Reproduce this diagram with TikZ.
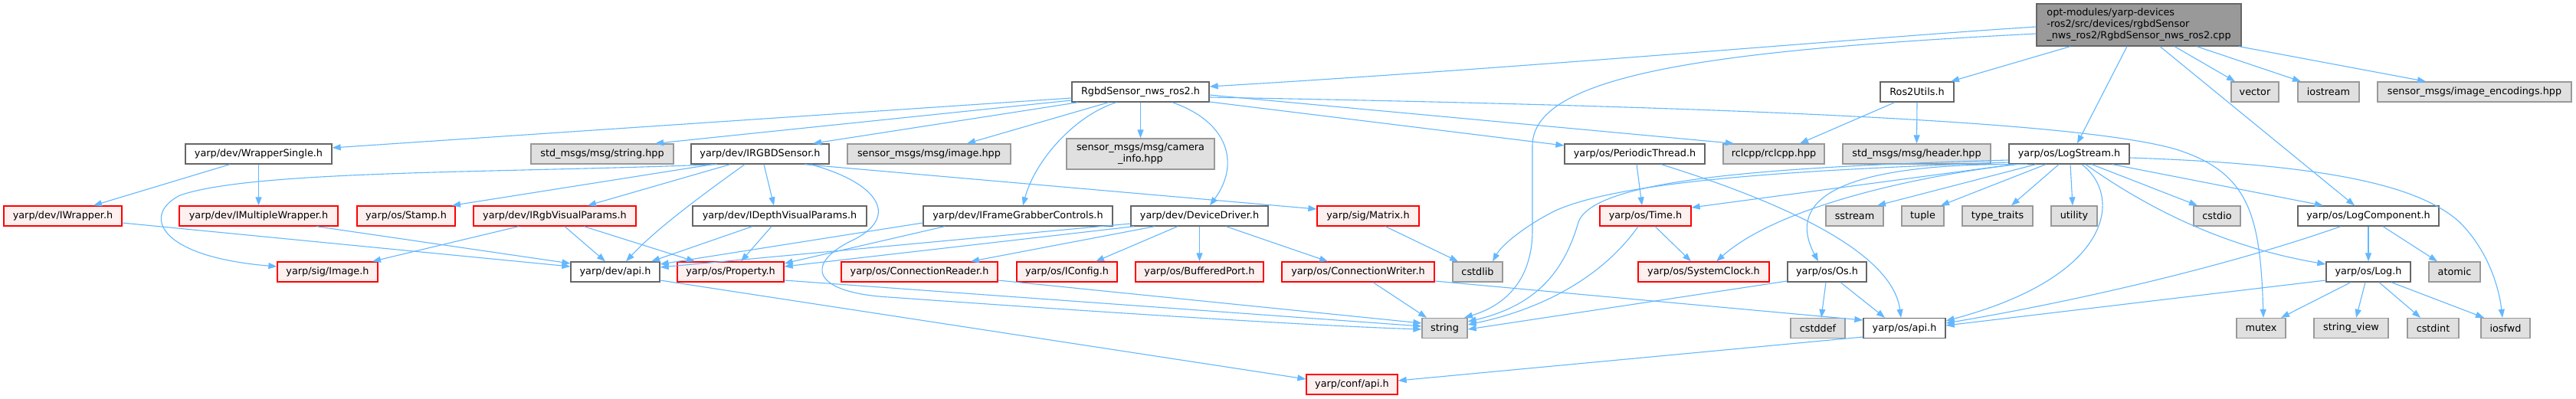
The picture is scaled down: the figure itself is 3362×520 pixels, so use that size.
\documentclass[tikz,border=0pt]{standalone}
\usepackage{fontspec}
\setmainfont{DejaVu Sans}
\usetikzlibrary{arrows.meta}
\definecolor{edgeblue}{HTML}{63B8FF}
\definecolor{redfill}{HTML}{FFF0F0}
\definecolor{grayfill}{HTML}{E0E0E0}
\definecolor{topfill}{HTML}{999999}
\definecolor{wborder}{HTML}{666666}
\definecolor{gborder}{HTML}{999999}
\begin{document}
\begin{tikzpicture}[x=1pt,y=-1pt,
  every node/.style={font=\fontsize{12.8}{15}\selectfont, inner sep=0pt, minimum height=26pt, line width=1.3pt, text=black},
  wbox/.style={draw=wborder, fill=white},
  gbox/.style={draw=gborder, fill=grayfill},
  rbox/.style={draw=red, fill=redfill},
  tbox/.style={draw=wborder, fill=topfill},
  dep/.style={draw=edgeblue, line width=1.1pt, -{Triangle[length=11pt,width=8pt]}},
]
\useasboundingbox[fill=white] (0,0) rectangle (3362,520);

% row 0 / 1
\node[tbox, minimum width=267pt, minimum height=55pt, align=left] (T) at (2791.5,32.5) {opt-modules/yarp-devices\\-ros2/src/devices/rgbdSensor\\\_nws\_ros2/RgbdSensor\_nws\_ros2.cpp};
\node[wbox, minimum width=179pt] (R) at (1488.5,120) {RgbdSensor\_nws\_ros2.h};
\node[wbox, minimum width=96pt] (ros) at (2502,120) {Ros2Utils.h};
\node[gbox, minimum width=62pt] (vec) at (2943,120) {vector};
\node[gbox, minimum width=80pt] (ios) at (3039,120) {iostream};
\node[gbox, minimum width=253pt] (enc) at (3229.5,120) {sensor\_msgs/image\_encodings.hpp};

% row 2
\node[wbox, minimum width=191pt] (ws) at (337.5,201) {yarp/dev/WrapperSingle.h};
\node[gbox, minimum width=186pt] (shpp) at (786,201) {std\_msgs/msg/string.hpp};
\node[wbox, minimum width=180pt] (irgbd) at (992,201) {yarp/dev/IRGBDSensor.h};
\node[gbox, minimum width=213pt] (ihpp) at (1212.5,201) {sensor\_msgs/msg/image.hpp};
\node[gbox, minimum width=193pt, minimum height=40pt, align=center] (cam) at (1488.5,201) {sensor\_msgs/msg/camera\\\_info.hpp};
\node[wbox, minimum width=183pt] (pt) at (2133.5,201) {yarp/os/PeriodicThread.h};
\node[gbox, minimum width=132pt] (rcl) at (2315,201) {rclcpp/rclcpp.hpp};
\node[gbox, minimum width=193pt] (hdr) at (2501.5,201) {std\_msgs/msg/header.hpp};
\node[wbox, minimum width=157pt] (ls) at (2700.5,201) {yarp/os/LogStream.h};

% row 3
\node[rbox, minimum width=154pt] (iwr) at (82,282) {yarp/dev/IWrapper.h};
\node[rbox, minimum width=207pt] (imw) at (337.5,282) {yarp/dev/IMultipleWrapper.h};
\node[rbox, minimum width=128pt] (stamp) at (530,282) {yarp/os/Stamp.h};
\node[rbox, minimum width=212pt] (rgbvp) at (724,282) {yarp/dev/IRgbVisualParams.h};
\node[wbox, minimum width=227pt] (depvp) at (1017.5,282) {yarp/dev/IDepthVisualParams.h};
\node[wbox, minimum width=247pt] (ifg) at (1328.5,282) {yarp/dev/IFrameGrabberControls.h};
\node[wbox, minimum width=179pt] (dd) at (1565.5,282) {yarp/dev/DeviceDriver.h};
\node[rbox, minimum width=133pt] (mat) at (1785.5,282) {yarp/sig/Matrix.h};
\node[rbox, minimum width=119pt] (time) at (2147.5,282) {yarp/os/Time.h};
\node[gbox, minimum width=75pt] (sst) at (2420.5,282) {sstream};
\node[gbox, minimum width=55pt] (tup) at (2509.5,282) {tuple};
\node[gbox, minimum width=92pt] (tt) at (2607,282) {type\_traits};
\node[gbox, minimum width=60pt] (util) at (2707,282) {utility};
\node[gbox, minimum width=61pt] (cstdio) at (2893.5,282) {cstdio};
\node[wbox, minimum width=184pt] (lc) at (3091,282) {yarp/os/LogComponent.h};

% row 4
\node[rbox, minimum width=131pt] (img) at (427.5,355) {yarp/sig/Image.h};
\node[wbox, minimum width=116pt] (devapi) at (803,355) {yarp/dev/api.h};
\node[rbox, minimum width=139pt] (prop) at (953.5,355) {yarp/os/Property.h};
\node[rbox, minimum width=204pt] (cr) at (1200,355) {yarp/os/ConnectionReader.h};
\node[rbox, minimum width=131pt] (icfg) at (1392.5,355) {yarp/os/IConfig.h};
\node[rbox, minimum width=167pt] (bp) at (1565.5,355) {yarp/os/BufferedPort.h};
\node[rbox, minimum width=199pt] (cw) at (1772.5,355) {yarp/os/ConnectionWriter.h};
\node[gbox, minimum width=65pt] (cstdlib) at (1928.5,355) {cstdlib};
\node[rbox, minimum width=171pt] (sc) at (2223.5,355) {yarp/os/SystemClock.h};
\node[wbox, minimum width=103pt] (os) at (2384.5,355) {yarp/os/Os.h};
\node[wbox, minimum width=110pt] (log) at (3091,355) {yarp/os/Log.h};
\node[gbox, minimum width=67pt] (atomic) at (3203.5,355) {atomic};

% row 5
\node[gbox, minimum width=59pt] (str) at (1885.5,428.5) {string};
\node[gbox, minimum width=71pt] (cstddef) at (2372.5,428.5) {cstddef};
\node[wbox, minimum width=107pt] (osapi) at (2485.5,428.5) {yarp/os/api.h};
\node[gbox, minimum width=64pt] (mutex) at (2951,428.5) {mutex};
\node[gbox, minimum width=97pt] (sv) at (3068.5,428.5) {string\_view};
\node[gbox, minimum width=67pt] (cstdint) at (3175.5,428.5) {cstdint};
\node[gbox, minimum width=64pt] (iosfwd) at (3270,428.5) {iosfwd};

% row 6
\node[rbox, minimum width=119pt] (conf) at (1764.5,502) {yarp/conf/api.h};

% ---- edges from the top file
\draw[dep] (T.west |- 0,35) .. controls (2450,48) and (2000,88) .. (R.east |- 0,113);
\draw[dep] (T.west |- 0,44) .. controls (2250,65) and (2000,95) .. (2000,190) -- (2000,300) .. controls (2000,370) and (1960,400) .. (1911,0 |- str.north);
\draw[dep] (2702,0 |- T.south) -- (2546,0 |- ros.north);
\draw[dep] (2776,0 |- T.south) -- (2711,0 |- ls.north);
\draw[dep] (2819,0 |- T.south) -- (3073,0 |- lc.north);
\draw[dep] (2838,0 |- T.south) -- (2917,0 |- vec.north);
\draw[dep] (2867,0 |- T.south) -- (3003,0 |- ios.north);
\draw[dep] (2922,0 |- T.south) -- (3166,0 |- enc.north);

% ---- RgbdSensor_nws_ros2.h
\draw[dep] (R.west |- 0,128) -- (ws.east |- 0,193);
\draw[dep] (R.west |- 0,131) -- (855,0 |- shpp.north);
\draw[dep] (1407,0 |- R.south) -- (1061,0 |- irgbd.north);
\draw[dep] (1447,0 |- R.south) -- (1262,0 |- ihpp.north);
\draw[dep] (1457,0 |- R.south) .. controls (1400,152) and (1350,212) .. (1335,0 |- ifg.north);
\draw[dep] (R.south) -- (cam.north);
\draw[dep] (1530,0 |- R.south) .. controls (1605,160) and (1618,215) .. (1579,0 |- dd.north);
\draw[dep] (R.east |- 0,124) -- (2263,0 |- rcl.north);
\draw[dep] (R.east |- 0,127) .. controls (2300,140) and (2720,160) .. (2840,195) .. controls (2935,225) and (2950,280) .. (2954,0 |- mutex.north);
\draw[dep] (R.east |- 0,133) -- (pt.west |- 0,190);

% ---- IRGBDSensor.h
\draw[dep] (936,0 |- irgbd.south) .. controls (650,226) and (330,222) .. (235,255) .. controls (185,280) and (205,335) .. (img.west |- 0,348);
\draw[dep] (930,0 |- irgbd.south) -- (590,0 |- stamp.north);
\draw[dep] (953,0 |- irgbd.south) -- (767,0 |- rgbvp.north);
\draw[dep] (972,0 |- irgbd.south) .. controls (930,245) and (860,295) .. (817,0 |- devapi.north);
\draw[dep] (997,0 |- irgbd.south) -- (1010,0 |- depvp.north);
\draw[dep] (1050,0 |- irgbd.south) -- (mat.west |- 0,273);
\draw[dep] (1058,0 |- irgbd.south) .. controls (1150,240) and (1175,285) .. (1110,315) .. controls (1050,345) and (1060,382) .. (1160,388) .. controls (1400,405) and (1700,425) .. (str.west |- 0,430);

% ---- visual params and wrappers
\draw[dep] (677,0 |- rgbvp.south) -- (486,0 |- img.north);
\draw[dep] (737,0 |- rgbvp.south) -- (790,0 |- devapi.north);
\draw[dep] (762,0 |- rgbvp.south) -- (907,0 |- prop.north);
\draw[dep] (982,0 |- depvp.south) -- (850,0 |- devapi.north);
\draw[dep] (1007,0 |- depvp.south) -- (967,0 |- prop.north);
\draw[dep] (300,0 |- ws.south) -- (122,0 |- iwr.north);
\draw[dep] (ws.south) -- (imw.north);
\draw[dep] (iwr.east |- 0,291) -- (devapi.west |- 0,348);
\draw[dep] (413,0 |- imw.south) -- (devapi.west |- 0,344);

% ---- IFrameGrabberControls.h, DeviceDriver.h
\draw[dep] (ifg.west |- 0,291) -- (devapi.east |- 0,345);
\draw[dep] (1233,0 |- ifg.south) -- (prop.east |- 0,344);
\draw[dep] (dd.west |- 0,292) -- (devapi.east |- 0,349);
\draw[dep] (1480,0 |- dd.south) -- (prop.east |- 0,348);
\draw[dep] (1507,0 |- dd.south) -- (1267,0 |- cr.north);
\draw[dep] (1537,0 |- dd.south) -- (1430,0 |- icfg.north);
\draw[dep] (dd.south) -- (bp.north);
\draw[dep] (1600,0 |- dd.south) -- (1733,0 |- cw.north);

% ---- middle
\draw[dep] (1808,0 |- mat.south) -- (1903,0 |- cstdlib.north);
\draw[dep] (cr.east |- 0,366) -- (str.west |- 0,422);
\draw[dep] (prop.east |- 0,366) -- (str.west |- 0,426);
\draw[dep] (1792,0 |- cw.south) -- (1862,0 |- str.north);
\draw[dep] (cw.east |- 0,367) -- (osapi.west |- 0,418);
\draw[dep] (devapi.east |- 0,366) -- (conf.west |- 0,495);
\draw[dep] (osapi.west |- 0,440) -- (conf.east |- 0,497);

% ---- PeriodicThread.h, Time.h, Os.h
\draw[dep] (2136,0 |- pt.south) -- (2143,0 |- time.north);
\draw[dep] (2168,0 |- pt.south) .. controls (2330,265) and (2470,330) .. (2481,0 |- osapi.north);
\draw[dep] (2160,0 |- time.south) -- (2207,0 |- sc.north);
\draw[dep] (2138,0 |- time.south) .. controls (2100,350) and (2030,400) .. (str.east |- 0,424);
\draw[dep] (2383,0 |- os.south) -- (2377,0 |- cstddef.north);
\draw[dep] (2402,0 |- os.south) -- (2460,0 |- osapi.north);
\draw[dep] (os.west |- 0,367) -- (str.east |- 0,430);

% ---- LogStream.h
\draw[dep] (2657,0 |- ls.south) -- (2450,0 |- sst.north);
\draw[dep] (2670,0 |- ls.south) -- (2533,0 |- tup.north);
\draw[dep] (2687,0 |- ls.south) -- (2625,0 |- tt.north);
\draw[dep] (2702,0 |- ls.south) -- (2705,0 |- util.north);
\draw[dep] (2730,0 |- ls.south) -- (2868,0 |- cstdio.north);
\draw[dep] (2717,0 |- ls.south) .. controls (2770,255) and (2760,360) .. (osapi.east |- 0,419);
\draw[dep] (2722,0 |- ls.south) .. controls (2800,270) and (2900,322) .. (log.west |- 0,345);
\draw[dep] (2757,0 |- ls.south) -- (3032,0 |- lc.north);
\draw[dep] (ls.east |- 0,206) .. controls (3050,215) and (3160,245) .. (3210,290) .. controls (3250,330) and (3262,380) .. (3266,0 |- iosfwd.north);
\draw[dep] (2632,0 |- ls.south) .. controls (2500,230) and (2320,270) .. (2240,0 |- sc.north);
\draw[dep] (2628,0 |- ls.south) -- (time.east |- 0,271);
\draw[dep] (2646,0 |- ls.south) .. controls (2400,212) and (2330,260) .. (2373,0 |- os.north);
\draw[dep] (ls.west |- 0,212) .. controls (2350,222) and (2120,235) .. (2030,275) .. controls (1990,295) and (1960,320) .. (1948,0 |- cstdlib.north);
\draw[dep] (ls.west |- 0,209) .. controls (2300,218) and (2080,235) .. (2060,290) .. controls (2040,360) and (2000,400) .. (str.east |- 0,420);

% ---- LogComponent.h, Log.h
\draw[dep] (lc.south) -- (log.north);
\draw[dep] (3110,0 |- lc.south) -- (3181,0 |- atomic.north);
\draw[dep] (3055,0 |- lc.south) .. controls (2900,350) and (2700,395) .. (osapi.east |- 0,422);
\draw[dep] (3068,0 |- log.south) -- (2977,0 |- mutex.north);
\draw[dep] (3087,0 |- log.south) -- (3075,0 |- sv.north);
\draw[dep] (3105,0 |- log.south) -- (3159,0 |- cstdint.north);
\draw[dep] (3121,0 |- log.south) -- (3242,0 |- iosfwd.north);
\draw[dep] (log.west |- 0,366) -- (osapi.east |- 0,425);

% ---- Ros2Utils.h
\draw[dep] (2473,0 |- ros.south) -- (2349,0 |- rcl.north);
\draw[dep] (ros.south) -- (hdr.north);
\end{tikzpicture}
\end{document}
